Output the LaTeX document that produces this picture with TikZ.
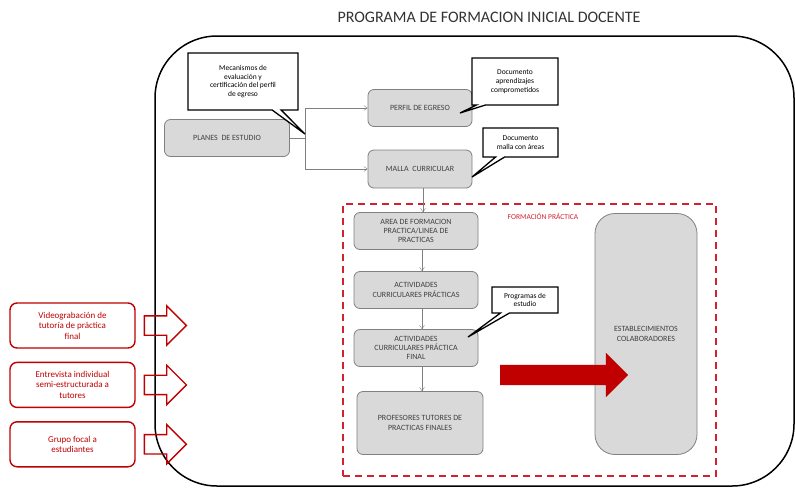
\documentclass[tikz,border=0pt]{standalone}
\usepackage{fontspec}
\setmainfont{Carlito}
\usetikzlibrary{arrows.meta,positioning,calc,shapes.arrows,shapes.callouts}
\definecolor{boxgray}{HTML}{D9D9D9}
\definecolor{edgegray}{HTML}{808080}
\definecolor{textgray}{HTML}{404040}
\definecolor{darkred}{HTML}{C00000}
\definecolor{dashred}{HTML}{D42030}
\begin{document}
\begin{tikzpicture}[x=1pt,y=-1pt,every node/.style={align=center,inner sep=1pt},
  gbox/.style={draw=edgegray,thick,fill=boxgray,rounded corners=6pt,text=textgray,font=\fontsize{8}{9.3}\selectfont},
  note/.style={rectangle callout,draw=black,line width=1.3pt,fill=white,font=\fontsize{7.5}{8.8}\selectfont,callout pointer width=9pt},
  rbox/.style={draw=darkred,line width=1.4pt,rounded corners=7pt,fill=white,text=darkred,font=\fontsize{9}{10.5}\selectfont,minimum width=125pt,minimum height=45pt},
  rarrow/.style={single arrow,draw=darkred,line width=1.4pt,inner xsep=0pt,inner ysep=9pt,single arrow head extend=10pt,minimum height=42pt},
  link/.style={draw=edgegray,-{Straight Barb[length=3.5pt,width=5pt]}}]
\useasboundingbox (0,0) rectangle (795,488);
\node[font=\fontsize{16}{18}\selectfont,text=black!80] (title) at (489,17) {PROGRAMA DE FORMACION INICIAL DOCENTE};
\draw[line width=1.5pt,rounded corners=62pt] (155,36) rectangle (794,486);
\node[draw=dashred,line width=2pt,dash pattern=on 7pt off 5pt,minimum width=373pt,minimum height=272pt] (fp) at (529.5,340) {};
\node[text=dashred,font=\fontsize{7.5}{9}\selectfont] (fplabel) at (543,216) {FORMACIÓN PRÁCTICA};
\node[gbox,minimum width=125pt,minimum height=37pt] (plan) at (227,138) {PLANES\ \ DE ESTUDIO};
\node[gbox,minimum width=104pt,minimum height=37pt] (perfil) at (420,108) {PERFIL DE EGRESO};
\node[gbox,minimum width=104pt,minimum height=38pt] (malla) at (420,169) {MALLA\ \ CURRICULAR};
\node[gbox,minimum width=124pt,minimum height=37pt] (area) at (416,231) {AREA DE FORMACION\\PRACTICA/LINEA DE\\PRACTICAS};
\node[gbox,minimum width=124pt,minimum height=37pt] (act) at (416,290) {ACTIVIDADES\\CURRICULARES PRÁCTICAS};
\node[gbox,minimum width=124pt,minimum height=37pt] (actfin) at (416,348) {ACTIVIDADES\\CURRICULARES PRÁCTICA\\FINAL};
\node[gbox,minimum width=126pt,minimum height=63pt] (prof) at (420,423) {PROFESORES TUTORES DE\\PRACTICAS FINALES};
\node[gbox,rounded corners=20pt,minimum width=102pt,minimum height=241pt] (estab) at (646,334) {ESTABLECIMIENTOS\\COLABORADORES};
\coordinate (split) at ($(plan.east)+(15,0)$);
\draw[draw=edgegray] (plan.east) -- (split);
\draw[link] (split) |- (perfil.west);
\draw[link] (split) |- (malla.west);
\draw[link] ([xshift=3pt]malla.south) -- ([xshift=3pt]malla.south |- area.north);
\draw[link] ([xshift=6pt]area.south) -- ([xshift=6pt]area.south |- act.north);
\draw[link] ([xshift=6pt]act.south) -- ([xshift=6pt]act.south |- actfin.north);
\draw[link] ([xshift=6pt]actfin.south) -- ([xshift=6pt]actfin.south |- prof.north);
\node[note,minimum width=110pt,minimum height=57pt,callout absolute pointer={(305,134)}] (mec) at (243,81.5) {Mecanismos de\\evaluación y\\certificación del perfil\\de egreso};
\node[note,minimum width=86pt,minimum height=47pt,callout absolute pointer={(460,113)}] (docperfil) at (515,81.5) {Documento\\aprendizajes\\comprometidos};
\node[note,minimum width=75pt,minimum height=29pt,callout absolute pointer={(472,177)}] (docmalla) at (520.5,142.5) {Documento\\malla con áreas};
\node[note,minimum width=66pt,minimum height=26pt,callout absolute pointer={(468,337)}] (docprog) at (525,300) {Programas de\\estudio};
\node[single arrow,fill=darkred,inner xsep=0pt,inner ysep=10pt,single arrow head extend=12pt,minimum height=128pt] (bigarrow) at (559,375) {};
\node[rbox] (video) at (72.5,325.5) {Videograbación de\\tutoría de práctica\\final};
\node[rbox,below=13pt of video] (entrev) {Entrevista individual\\semi-estructurada a\\tutores};
\node[rbox,below=13pt of entrev] (grupo) {Grupo focal a\\estudiantes};
\node[rarrow,right=8pt of video] (videoarrow) {};
\node[rarrow,right=8pt of entrev] (entrevarrow) {};
\node[rarrow,right=8pt of grupo] (grupoarrow) {};
\end{tikzpicture}
\end{document}
